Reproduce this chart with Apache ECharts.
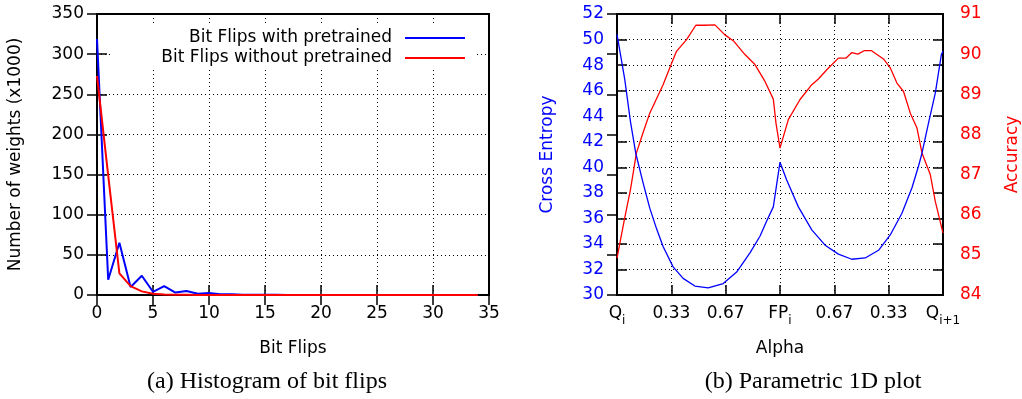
<!DOCTYPE html>
<html>
<head>
<meta charset="utf-8">
<script src="https://cdn.jsdelivr.net/npm/echarts@6/dist/echarts.min.js"></script>
<style>html,body{margin:0;padding:0;background:#fff;}#c{width:1022px;height:399px;}</style>
</head>
<body>
<div id="c"></div>
<script>
// ---- Left chart data: histogram of bit flips ----
const bitFlips = [0,1,2,3,4,5,6,7,8,9,10,11,12,13,14,15,16,17,18,19,20,21,22,23,24,25,26,27,28,29,30,31,32,33,34];
const withPretrained = [319,19,65,10,24,4,11,3,5,1.5,2.5,0.8,0.8,0.4,0.3,0.2,0.2,0.1,0.1,0.1,0,0,0,0,0,0,0,0,0,0,0,0,0,0,0];
const withoutPretrained = [273,149,27,11,4.5,1.5,0.6,0.3,0.2,0.1,0,0,0,0,0,0,0,0,0,0,0,0,0,0,0,0,0,0,0,0,0,0,0,0,0];
const leftSeriesNames = ['Bit Flips with pretrained', 'Bit Flips without pretrained'];

// ---- Right chart data: parametric 1D plot ----
const alphaTickLabels = ['{m|Q}{s|i}', '{m|0.33}', '{m|0.67}', '{m|FP}{s|i}', '{m|0.67}', '{m|0.33}', '{m|Q}{s|i+1}'];
const ceX = [0,0.142,0.247,0.345,0.479,0.603,0.727,0.848,1.033,1.217,1.433,1.678,1.955,2.202,2.447,2.631,2.755,2.877,3.0,3.123,3.338,3.585,3.830,4.075,4.322,4.568,4.813,5.029,5.244,5.429,5.550,5.613,5.735,5.858,5.969,6.0];
const ceY = [50.4,46.9,43.6,41.1,38.8,36.8,35.2,33.8,32.2,31.3,30.7,30.55,30.9,31.8,33.3,34.6,35.8,36.9,40.4,39.0,36.9,35.1,33.9,33.2,32.8,32.9,33.5,34.7,36.4,38.4,40.1,41.1,43.5,45.8,48.8,49.1];
const accX = [0,0.142,0.247,0.358,0.479,0.603,0.848,0.972,1.095,1.280,1.451,1.617,1.802,1.986,2.152,2.355,2.539,2.724,2.877,2.926,3.0,3.153,3.369,3.585,3.706,3.861,4.075,4.212,4.322,4.433,4.555,4.678,4.905,5.029,5.152,5.274,5.398,5.521,5.613,5.766,5.858,6.0];
const accY = [84.92,85.92,86.62,87.54,88.04,88.53,89.24,89.66,90.07,90.36,90.72,90.72,90.73,90.48,90.32,89.99,89.74,89.32,88.88,88.28,87.66,88.37,88.87,89.24,89.38,89.61,89.90,89.90,90.04,90.0,90.09,90.09,89.88,89.66,89.28,89.07,88.53,88.16,87.54,87.0,86.33,85.54];

const FONT = 'DejaVu Sans';
const FS = 17;
const BLUE = '#0000ff';
const RED = '#ff0000';
const dotted = { color: '#000', width: 1, type: [1, 3] };
const tickStyle = { color: '#000', width: 1.5 };

function pairs(xs, ys) { return xs.map((x, i) => [x, ys[i]]); }

const chart = echarts.init(document.getElementById('c'), null, { renderer: 'canvas' });

const option = {
  backgroundColor: '#fff',
  animation: false,
  textStyle: { fontFamily: FONT },
  grid: [
    { left: 97, top: 14, width: 392, height: 281, show: true, borderColor: '#000', borderWidth: 2, backgroundColor: 'transparent' },
    { left: 617, top: 14, width: 326, height: 281, show: true, borderColor: '#000', borderWidth: 2, backgroundColor: 'transparent' }
  ],
  legend: {
    data: leftSeriesNames.map((n) => ({ name: n, icon: 'rect' })),
    orient: 'vertical',
    align: 'right',
    right: 545,
    top: 26,
    padding: [2, 12, 1, 51],
    itemWidth: 60,
    itemHeight: 2,
    itemGap: 0,
    backgroundColor: '#fff',
    selectedMode: false,
    textStyle: { fontFamily: FONT, fontSize: FS, color: '#000', lineHeight: 20, padding: [0, 8, 0, 0] }
  },
  xAxis: [
    {
      type: 'value', gridIndex: 0, min: 0, max: 35, interval: 5, position: 'bottom',
      name: 'Bit Flips', nameLocation: 'middle', nameGap: 45,
      nameTextStyle: { fontFamily: FONT, fontSize: FS, color: '#000' },
      axisLine: { show: false },
      axisTick: { show: true, inside: true, length: 10, lineStyle: tickStyle },
      axisLabel: { fontFamily: FONT, fontSize: FS, color: '#000', margin: 10 },
      splitLine: { show: true, lineStyle: dotted }
    },
    {
      type: 'value', gridIndex: 0, min: 0, max: 35, interval: 5, position: 'top',
      axisLine: { show: false },
      axisTick: { show: true, inside: true, length: 10, lineStyle: tickStyle },
      axisLabel: { show: false }, splitLine: { show: false }
    },
    {
      type: 'value', gridIndex: 1, min: 0, max: 6, interval: 1, position: 'bottom',
      name: 'Alpha', nameLocation: 'middle', nameGap: 45,
      nameTextStyle: { fontFamily: FONT, fontSize: FS, color: '#000' },
      axisLine: { show: false },
      axisTick: { show: true, inside: true, length: 10, lineStyle: tickStyle },
      axisLabel: {
        fontFamily: FONT, fontSize: FS, color: '#000', margin: 10,
        formatter: (v) => alphaTickLabels[Math.round(v)],
        rich: {
          m: { fontFamily: FONT, fontSize: FS, color: '#000', padding: [0, 0, 6, 0] },
          s: { fontFamily: FONT, fontSize: 12, color: '#000', padding: [8, 0, 0, 0] }
        }
      },
      splitLine: { show: true, lineStyle: dotted }
    },
    {
      type: 'value', gridIndex: 1, min: 0, max: 6, interval: 1, position: 'top',
      axisLine: { show: false },
      axisTick: { show: true, inside: true, length: 10, lineStyle: tickStyle },
      axisLabel: { show: false }, splitLine: { show: false }
    }
  ],
  yAxis: [
    {
      type: 'value', gridIndex: 0, min: 0, max: 350, interval: 50, position: 'left',
      name: 'Number of weights (x1000)', nameLocation: 'middle', nameGap: 73, nameRotate: 90,
      nameTextStyle: { fontFamily: FONT, fontSize: FS, color: '#000' },
      axisLine: { show: false },
      axisTick: { show: true, inside: true, length: 10, lineStyle: tickStyle },
      axisLabel: { fontFamily: FONT, fontSize: FS, color: '#000', margin: 13 },
      splitLine: { show: true, lineStyle: dotted }
    },
    {
      type: 'value', gridIndex: 0, min: 0, max: 350, interval: 50, position: 'right',
      axisLine: { show: false },
      axisTick: { show: true, inside: true, length: 10, lineStyle: tickStyle },
      axisLabel: { show: false }, splitLine: { show: false }
    },
    {
      type: 'value', gridIndex: 1, min: 30, max: 52, interval: 2, position: 'left',
      name: 'Cross Entropy', nameLocation: 'middle', nameGap: 61, nameRotate: 90,
      nameTextStyle: { fontFamily: FONT, fontSize: FS, color: BLUE },
      axisLine: { show: false },
      axisTick: { show: true, inside: true, length: 10, lineStyle: tickStyle },
      axisLabel: { fontFamily: FONT, fontSize: FS, color: BLUE, margin: 13 },
      splitLine: { show: true, lineStyle: dotted }
    },
    {
      type: 'value', gridIndex: 1, min: 84, max: 91, interval: 1, position: 'right',
      name: 'Accuracy', nameLocation: 'middle', nameGap: 61, nameRotate: 90,
      nameTextStyle: { fontFamily: FONT, fontSize: FS, color: RED },
      axisLine: { show: false },
      axisTick: { show: true, inside: true, length: 10, lineStyle: tickStyle },
      axisLabel: { fontFamily: FONT, fontSize: FS, color: RED, margin: 17 },
      splitLine: { show: false }
    },
    {
      type: 'value', gridIndex: 1, min: 30, max: 52, interval: 2, position: 'right',
      axisLine: { show: false },
      axisTick: { show: true, inside: true, length: 10, lineStyle: tickStyle },
      axisLabel: { show: false }, splitLine: { show: false }
    }
  ],
  series: [
    {
      name: leftSeriesNames[0], type: 'line', xAxisIndex: 0, yAxisIndex: 0,
      data: pairs(bitFlips, withPretrained), symbol: 'none',
      lineStyle: { color: BLUE, width: 2 }, itemStyle: { color: BLUE }
    },
    {
      name: leftSeriesNames[1], type: 'line', xAxisIndex: 0, yAxisIndex: 0,
      data: pairs(bitFlips, withoutPretrained), symbol: 'none',
      lineStyle: { color: RED, width: 2 }, itemStyle: { color: RED }
    },
    {
      name: 'Accuracy', type: 'line', xAxisIndex: 2, yAxisIndex: 3,
      data: pairs(accX, accY), symbol: 'none',
      lineStyle: { color: RED, width: 1.3 }, itemStyle: { color: RED }
    },
    {
      name: 'Cross Entropy', type: 'line', xAxisIndex: 2, yAxisIndex: 2,
      data: pairs(ceX, ceY), symbol: 'none',
      lineStyle: { color: BLUE, width: 1.3 }, itemStyle: { color: BLUE }
    }
  ],
  graphic: [
    { type: 'text', x: 267, y: 382, style: { text: '(a) Histogram of bit flips', font: '24px "Liberation Serif"', fill: '#000', align: 'center', verticalAlign: 'middle' } },
    { type: 'text', x: 813, y: 382, style: { text: '(b) Parametric 1D plot', font: '24px "Liberation Serif"', fill: '#000', align: 'center', verticalAlign: 'middle' } }
  ]
};
chart.setOption(option);
</script>
</body>
</html>
